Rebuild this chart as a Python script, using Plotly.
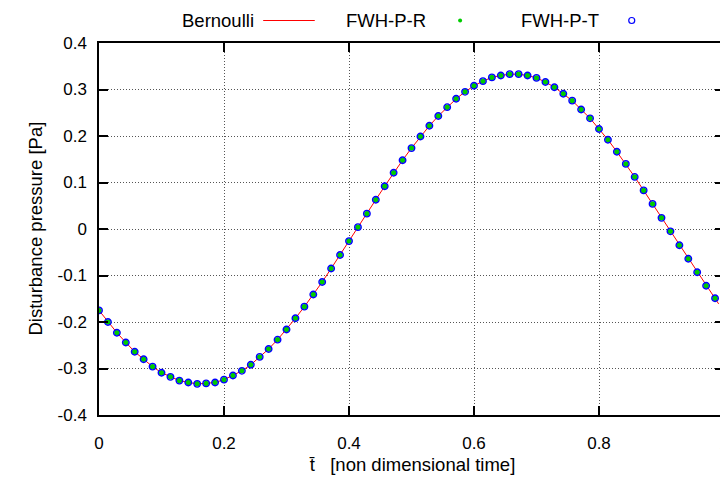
import plotly.graph_objects as go

# ---- data ----
t_vals = [0.0000, 0.0143, 0.0286, 0.0429, 0.0571, 0.0714, 0.0857, 0.1000, 0.1143, 0.1286,
          0.1429, 0.1571, 0.1714, 0.1857, 0.2000, 0.2143, 0.2286, 0.2429, 0.2571, 0.2714,
          0.2857, 0.3000, 0.3143, 0.3286, 0.3429, 0.3571, 0.3714, 0.3857, 0.4000, 0.4143,
          0.4286, 0.4429, 0.4571, 0.4714, 0.4857, 0.5000, 0.5143, 0.5286, 0.5429, 0.5571,
          0.5714, 0.5857, 0.6000, 0.6143, 0.6286, 0.6429, 0.6571, 0.6714, 0.6857, 0.7000,
          0.7143, 0.7286, 0.7429, 0.7571, 0.7714, 0.7857, 0.8000, 0.8143, 0.8286, 0.8429,
          0.8571, 0.8714, 0.8857, 0.9000, 0.9143, 0.9286, 0.9429, 0.9571, 0.9714, 0.9857]

fwh_r = [-0.175, -0.200, -0.223, -0.244, -0.264, -0.280, -0.296, -0.309, -0.318, -0.326,
         -0.330, -0.333, -0.332, -0.330, -0.324, -0.315, -0.305, -0.292, -0.275, -0.258,
         -0.238, -0.216, -0.192, -0.167, -0.141, -0.114, -0.085, -0.056, -0.026, 0.004,
         0.033, 0.063, 0.092, 0.121, 0.148, 0.174, 0.199, 0.222, 0.243, 0.262,
         0.280, 0.295, 0.308, 0.318, 0.326, 0.330, 0.333, 0.333, 0.330, 0.325,
         0.316, 0.305, 0.291, 0.276, 0.257, 0.238, 0.215, 0.192, 0.166, 0.140,
         0.112, 0.083, 0.054, 0.024, -0.005, -0.035, -0.064, -0.093, -0.122, -0.149]

fwh_t = list(fwh_r)

bern_t = t_vals + [0.9914]
bern_p = fwh_r + [-0.161]

x_tickvals = [0, 0.2, 0.4, 0.6, 0.8, 1.0]
x_ticktext = ["0", "0.2", "0.4", "0.6", "0.8", "1"]
y_tickvals = [0.4, 0.3, 0.2, 0.1, 0, -0.1, -0.2, -0.3, -0.4]
y_ticktext = ["0.4", "0.3", "0.2", "0.1", "0", "-0.1", "-0.2", "-0.3", "-0.4"]

legend_names = ["Bernoulli", "FWH-P-R", "FWH-P-T"]

# ---- layout geometry (figure pixels; page adds an 8px body offset) ----
W, H = 728, 479
L, T, R, B = 91, 35, 7, 72
PW = W - L - R
PH = H - T - B
OFF = 8


def px(x):  # window x -> paper
    return (x - OFF - L) / PW


def py(y):  # window y -> paper
    return (H - B - (y - OFF)) / PH


FONT = "Liberation Sans, Arial, Helvetica, sans-serif"
FS_TICK = 17
FS = 18.5

fig = go.Figure()
fig.add_trace(go.Scatter(x=bern_t, y=bern_p, mode="lines", name=legend_names[0],
                         line=dict(color="#ff0000", width=1), showlegend=False))
fig.add_trace(go.Scatter(x=t_vals, y=fwh_r, mode="markers", name=legend_names[1],
                         marker=dict(color="#00cc00", size=5.5, line=dict(width=0)),
                         showlegend=False))
fig.add_trace(go.Scatter(x=t_vals, y=fwh_t, mode="markers", name=legend_names[2],
                         marker=dict(symbol="circle-open", color="#0000ff", size=6.5,
                                     line=dict(width=1.4, color="#0000ff")),
                         showlegend=False))

grid = dict(showgrid=True, gridcolor="#555555", gridwidth=1, griddash="1px,2px")

fig.update_layout(
    width=W, height=H,
    margin=dict(l=L, r=R, t=T, b=B),
    paper_bgcolor="white", plot_bgcolor="white",
    font=dict(family=FONT, size=FS_TICK, color="#000000"),
    xaxis=dict(range=[0, 1], tickvals=x_tickvals, ticktext=x_ticktext,
               ticks="inside", ticklen=9, tickwidth=1.5, tickcolor="#000000",
               showline=True, linecolor="#000000", linewidth=1.5, mirror="ticks",
               zeroline=False, ticklabelstandoff=12, **grid),
    yaxis=dict(range=[-0.4, 0.4], tickvals=y_tickvals, ticktext=y_ticktext,
               ticks="inside", ticklen=9, tickwidth=1.5, tickcolor="#000000",
               showline=True, linecolor="#000000", linewidth=1.5, mirror="ticks",
               zeroline=False, ticklabelstandoff=7, **grid),
    showlegend=False,
)

# axis titles
fig.add_annotation(text="Disturbance pressure [Pa]", xref="paper", yref="paper",
                   x=px(34), y=py(229), textangle=-90, showarrow=False,
                   xanchor="center", yanchor="middle", font=dict(size=FS))
fig.add_annotation(text="t\u0304\u00a0\u00a0\u00a0[non dimensional time]", xref="paper", yref="paper",
                   x=px(414), y=py(464), showarrow=False,
                   xanchor="center", yanchor="middle", font=dict(size=FS))

# key (gnuplot style: text then sample)
key_text_right = [257, 431, 605]
key_y = 20.5
for name, xr in zip(legend_names, key_text_right):
    fig.add_annotation(text=name, xref="paper", yref="paper", x=px(xr), y=py(key_y),
                       xanchor="right", yanchor="middle", showarrow=False,
                       font=dict(size=FS))
fig.add_shape(type="line", xref="paper", yref="paper", x0=px(264.5), x1=px(316.5),
              y0=py(key_y), y1=py(key_y), line=dict(color="#ff0000", width=1))
fig.add_shape(type="circle", xref="paper", yref="paper", xsizemode="pixel", ysizemode="pixel",
              xanchor=px(463), yanchor=py(key_y), x0=-2, x1=2, y0=-2, y1=2,
              fillcolor="#00cc00", line=dict(width=0))
fig.add_shape(type="circle", xref="paper", yref="paper", xsizemode="pixel", ysizemode="pixel",
              xanchor=px(636), yanchor=py(key_y), x0=-3, x1=3, y0=-3, y1=3,
              fillcolor="rgba(0,0,0,0)", line=dict(color="#0000ff", width=1.2))

fig.write_html("out.html")
